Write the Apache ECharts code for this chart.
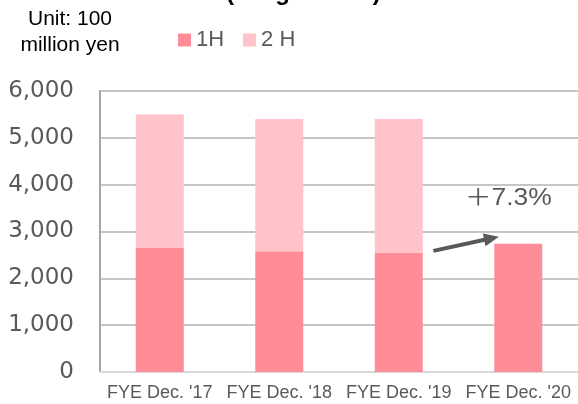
<!DOCTYPE html>
<html>
<head>
<meta charset="utf-8">
<script src="https://cdn.jsdelivr.net/npm/echarts@6/dist/echarts.min.js"></script>
<style>
html,body{margin:0;padding:0;background:#fff;}
#c{width:578px;height:404px;}
</style>
</head>
<body>
<div id="c"></div>
<script>
var categories = ["FYE Dec. '17", "FYE Dec. '18", "FYE Dec. '19", "FYE Dec. '20"];
var firstHalf = [2650, 2580, 2550, 2736];
var secondHalf = [2850, 2820, 2850, null];
var seriesNames = ["1H", "2 H"];
var yTicks = [0, 1000, 2000, 3000, 4000, 5000, 6000];
var growthLabel = "＋7.3%";
// arrow annotation endpoints in data space: [category position, value]
var arrowStart = [2.29, 2587];
var arrowEnd = [2.776, 2856];

var gray = '#595959';
var chart = echarts.init(document.getElementById('c'), null, {renderer: 'canvas'});
chart.setOption({
  animation: false,
  backgroundColor: '#fff',
  title: {
    text: '(Image Chart)',
    left: 226,
    top: -19,
    padding: 0,
    textStyle: {fontFamily: 'Liberation Sans', fontSize: 24, fontWeight: 'bold', color: '#000'}
  },
  legend: {
    data: seriesNames,
    left: 178,
    top: 29,
    padding: 0,
    icon: 'rect',
    itemWidth: 13,
    itemHeight: 13,
    itemGap: 19,
    textStyle: {fontFamily: 'Liberation Sans', fontSize: 22, color: gray}
  },
  graphic: [
    {
      type: 'text',
      x: 70,
      y: 6,
      style: {
        text: 'Unit: 100\nmillion yen',
        fontFamily: 'Liberation Sans',
        fontSize: 21,
        lineHeight: 26,
        fill: '#000',
        align: 'center',
        verticalAlign: 'top'
      }
    },
    {
      type: 'text',
      x: 465,
      y: 199,
      scaleX: 1.15,
      style: {
        text: growthLabel,
        fontFamily: 'Liberation Sans, Noto Sans CJK JP',
        fontSize: 23,
        fill: gray,
        align: 'left',
        verticalAlign: 'middle'
      }
    }
  ],
  grid: {left: 100, right: -4, top: 91, bottom: 32, containLabel: false},
  xAxis: [
    {
      type: 'category',
      data: categories,
      axisLine: {show: true, lineStyle: {color: '#d9d9d9', width: 2}},
      axisTick: {show: false},
      axisLabel: {fontFamily: 'Liberation Sans', fontSize: 18, color: gray, margin: 12, interval: 0}
    },
    {
      type: 'value',
      min: -0.5,
      max: 3.5,
      show: false
    }
  ],
  yAxis: {
    type: 'value',
    min: yTicks[0],
    max: yTicks[yTicks.length - 1],
    interval: 1000,
    axisLine: {show: true, onZero: false, lineStyle: {color: '#a6a6a6', width: 2}},
    axisTick: {show: false},
    splitLine: {lineStyle: {color: '#c6c6c6', width: 2}},
    axisLabel: {
      fontFamily: 'DejaVu Sans',
      fontSize: 23,
      color: gray,
      margin: 26,
      formatter: function (v) { return v.toLocaleString('en-US'); }
    }
  },
  series: [
    {
      name: seriesNames[0],
      type: 'bar',
      stack: 'total',
      barWidth: 48,
      data: firstHalf,
      itemStyle: {color: '#ff8d98'}
    },
    {
      name: seriesNames[1],
      type: 'bar',
      stack: 'total',
      barWidth: 48,
      data: secondHalf,
      itemStyle: {color: '#ffc3c9'}
    },
    {
      name: 'arrow',
      type: 'scatter',
      xAxisIndex: 1,
      data: [],
      silent: true,
      markLine: {
        silent: true,
        symbol: ['none', 'triangle'],
        symbolSize: [13, 15],
        label: {show: false},
        lineStyle: {color: gray, width: 4, type: 'solid'},
        emphasis: {disabled: true},
        data: [[{coord: arrowStart}, {coord: arrowEnd}]]
      }
    }
  ]
});
</script>
</body>
</html>
